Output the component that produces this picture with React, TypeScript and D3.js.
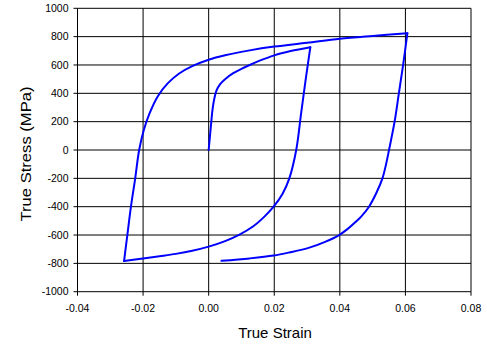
import React from "react";
import * as d3 from "d3";

const svgWidth = 487;
const svgHeight = 345;

// plot area in pixels
const margin = { top: 8.3, left: 77.5, right: 16, bottom: 53.3 };
const innerWidth = svgWidth - margin.left - margin.right;
const innerHeight = svgHeight - margin.top - margin.bottom;

const xTicks = [-0.04, -0.02, 0.0, 0.02, 0.04, 0.06, 0.08];
const yTicks = [-1000, -800, -600, -400, -200, 0, 200, 400, 600, 800, 1000];

// first loading, from zero up to the first peak
const load1Strain = [0, 0.0004, 0.0008, 0.0012, 0.0017, 0.0024, 0.0035, 0.005, 0.0075, 0.01, 0.0125, 0.015, 0.02, 0.025, 0.031];
const load1Stress = [0, 100, 200, 290, 360, 420, 465, 500, 542, 573, 600, 625, 668, 698, 725];

// unloading into compression
const unload1Strain = [0.031, 0.0296, 0.0282, 0.0267, 0.0246, 0.0225, 0.0198, 0.017, 0.0135, 0.0094, 0.005, 0.0, -0.005, -0.01, -0.015, -0.02, -0.0258];
const unload1Stress = [725, 500, 260, 0, -200, -310, -400, -470, -540, -597, -643, -682, -711, -733, -750, -766, -784];

// reloading up to the second peak
const load2Strain = [-0.0258, -0.0248, -0.0237, -0.0224, -0.0212, -0.0198, -0.018, -0.0155, -0.0125, -0.009, -0.005, 0.0, 0.005, 0.0125, 0.02, 0.03, 0.04, 0.05, 0.0606];
const load2Stress = [-784, -600, -400, -200, 0, 140, 260, 380, 470, 540, 592, 637, 668, 703, 730, 757, 785, 805, 824];

// final unloading
const unload2Strain = [0.0606, 0.0593, 0.058, 0.0567, 0.055, 0.0541, 0.053, 0.0512, 0.0489, 0.0465, 0.0449, 0.0425, 0.0398, 0.0355, 0.0307, 0.0246, 0.0198, 0.0125, 0.0039];
const unload2Stress = [824, 600, 400, 200, 0, -100, -200, -300, -400, -470, -506, -555, -600, -648, -689, -723, -745, -765, -782];

const segments = [
  [load1Strain, load1Stress],
  [unload1Strain, unload1Stress],
  [load2Strain, load2Stress],
  [unload2Strain, unload2Stress],
];

const App = () => {
  const xScale = d3.scaleLinear().domain([-0.04, 0.08]).range([0, innerWidth]);
  const yScale = d3.scaleLinear().domain([-1000, 1000]).range([innerHeight, 0]);

  const line = d3
    .line<[number, number]>()
    .x((d) => xScale(d[0]))
    .y((d) => yScale(d[1]))
    .curve(d3.curveCatmullRom.alpha(0.5));

  const font = "'Liberation Sans', Arial, sans-serif";

  return (
    <svg
      width={svgWidth}
      height={svgHeight}
      style={{ position: "absolute", left: 0, top: 0, background: "#fff" }}
    >
      <g transform={`translate(${margin.left},${margin.top})`}>
        {/* grid */}
        {xTicks.map((t, i) => (
          <line key={"gx" + i} x1={xScale(t)} x2={xScale(t)} y1={0} y2={innerHeight} stroke="#000" strokeWidth={1} />
        ))}
        {yTicks.map((t, i) => (
          <line key={"gy" + i} x1={0} x2={innerWidth} y1={yScale(t)} y2={yScale(t)} stroke="#000" strokeWidth={1} />
        ))}

        {/* axes ticks */}
        {yTicks.map((t, i) => (
          <g key={"ty" + i} transform={`translate(0,${yScale(t)})`}>
            <line x1={-4} x2={0} stroke="#000" />
            <text x={-9} dy="0.35em" textAnchor="end" fontSize={10.5} fontFamily={font} fill="#000">
              {t}
            </text>
          </g>
        ))}
        {xTicks.map((t, i) => (
          <g key={"tx" + i} transform={`translate(${xScale(t)},${innerHeight})`}>
            <line y1={0} y2={4} stroke="#000" />
            <text y={20} textAnchor="middle" fontSize={10.5} fontFamily={font} fill="#000">
              {d3.format(".2f")(t).replace("−", "-")}
            </text>
          </g>
        ))}

        {/* curves, one path per loading branch */}
        {segments.map(([sx, sy], i) => (
          <path
            key={"c" + i}
            d={line(sx.map((v, j) => [v, sy[j]] as [number, number])) || ""}
            fill="none"
            stroke="#0000ff"
            strokeWidth={2}
            strokeLinejoin="round"
            strokeLinecap="round"
          />
        ))}
      </g>

      {/* axis titles */}
      <text x={275} y={338} textAnchor="middle" fontSize={15} fontFamily={font} fill="#000">
        True Strain
      </text>
      <text
        transform="translate(30.5,154) rotate(-90)"
        textAnchor="middle"
        fontSize={15}
        fontFamily={font}
        fill="#000"
        textLength={135}
        lengthAdjust="spacingAndGlyphs"
      >
        True Stress (MPa)
      </text>
    </svg>
  );
};

export default App;
